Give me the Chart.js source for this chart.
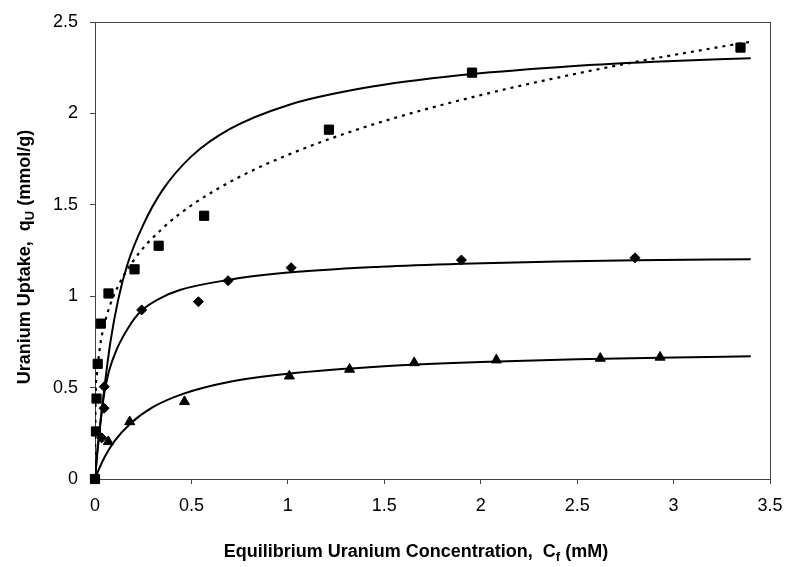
<!DOCTYPE html>
<html><head><meta charset="utf-8">
<script src="https://cdn.jsdelivr.net/npm/chart.js@4/dist/chart.umd.min.js"></script>
<style>html,body{margin:0;padding:0;background:#fff}</style>
</head><body>
<canvas id="c" width="787" height="567"></canvas>
<script>
// Axis ticks
const xTicks = [0, 0.5, 1, 1.5, 2, 2.5, 3, 3.5];
const yTicks = [0, 0.5, 1, 1.5, 2, 2.5];

// Measured data (squares)
const squareX = [0, 0.005, 0.008, 0.014, 0.03, 0.07, 0.205, 0.33, 0.566, 1.213, 1.955, 3.347];
const squareY = [0, 0.26, 0.44, 0.63, 0.85, 1.015, 1.147, 1.276, 1.44, 1.911, 2.223, 2.36];
// Measured data (diamonds)
const diamondX = [0, 0.035, 0.047, 0.048, 0.242, 0.536, 0.69, 1.017, 1.90, 2.80];
const diamondY = [0, 0.225, 0.387, 0.505, 0.925, 0.97, 1.085, 1.156, 1.198, 1.21];
// Measured data (triangles)
const triangleX = [0.069, 0.18, 0.464, 1.008, 1.32, 1.655, 2.081, 2.62, 2.93];
const triangleY = [0.204, 0.313, 0.423, 0.563, 0.60, 0.636, 0.651, 0.66, 0.666];

// Fitted curves
const topFitX = [0, 0.01, 0.025, 0.05, 0.08, 0.12, 0.17, 0.25, 0.35, 0.5, 0.7, 1.0, 1.4, 1.9, 2.4, 2.9, 3.4];
const topFitY = [0, 0.12, 0.28, 0.51, 0.75, 0.98, 1.18, 1.39, 1.58, 1.765, 1.915, 2.045, 2.14, 2.21, 2.253, 2.282, 2.302];
const dotFitX = [0, 0.003, 0.01, 0.03, 0.06, 0.1, 0.2, 0.35, 0.5, 0.75, 1.0, 1.3, 1.6, 2.0, 2.4, 2.8, 3.1, 3.4];
const dotFitY = [0, 0.43, 0.575, 0.752, 0.891, 1.01, 1.196, 1.371, 1.497, 1.653, 1.773, 1.891, 1.989, 2.10, 2.196, 2.281, 2.338, 2.392];
const midFitX = [0, 0.01, 0.025, 0.045, 0.07, 0.113, 0.18, 0.24, 0.34, 0.44, 0.69, 0.96, 1.48, 1.9, 2.4, 2.8, 3.4];
const midFitY = [0, 0.13, 0.28, 0.45, 0.58, 0.71, 0.84, 0.92, 0.99, 1.034, 1.089, 1.125, 1.161, 1.178, 1.19, 1.197, 1.202];
const lowFitX = [0, 0.02, 0.05, 0.1, 0.18, 0.3, 0.46, 0.7, 1.0, 1.5, 2.0, 2.5, 3.0, 3.4];
const lowFitY = [0, 0.053, 0.12, 0.206, 0.30, 0.393, 0.467, 0.532, 0.576, 0.617, 0.64, 0.655, 0.665, 0.671];

const pts = (xs, ys) => xs.map((x, i) => ({x: x, y: ys[i]}));

const FONT = "'Liberation Sans', Arial, sans-serif";

const lineDs = (label, xs, ys, dash) => ({
  label: label, data: pts(xs, ys), showLine: true, pointRadius: 0,
  borderColor: '#000', borderWidth: dash ? 2.2 : 2, borderDash: dash || [],
  tension: 0.4, cubicInterpolationMode: 'monotone', fill: false, order: 2
});
const markDs = (label, xs, ys, style, r) => ({
  label: label, data: pts(xs, ys), showLine: false, pointStyle: style,
  pointRadius: r, pointHoverRadius: r, backgroundColor: '#000', borderColor: '#000',
  borderWidth: 1, order: 1, clip: false
});

const framePlugin = {
  id: 'frame',
  beforeDatasetsDraw(chart) {
    const a = chart.chartArea, ctx = chart.ctx;
    ctx.save();
    ctx.strokeStyle = '#444';
    ctx.lineWidth = 1;
    ctx.strokeRect(Math.round(a.left) + 0.5, Math.round(a.top) + 0.5,
      Math.round(a.right - a.left), Math.round(a.bottom - a.top));
    ctx.restore();
  }
};

function drawSub(ctx, parts, x, y) {
  const main = 'bold 18px ' + FONT, sub = 'bold 13px ' + FONT;
  let w = 0;
  parts.forEach(p => { ctx.font = p[1] ? sub : main; w += ctx.measureText(p[0]).width; });
  let cx = x - w / 2;
  parts.forEach(p => {
    ctx.font = p[1] ? sub : main;
    ctx.fillText(p[0], cx, p[1] ? y + 4 : y);
    cx += ctx.measureText(p[0]).width;
  });
}

const titlePlugin = {
  id: 'titles',
  afterDraw(chart) {
    const ctx = chart.ctx;
    ctx.save();
    ctx.fillStyle = '#000';
    ctx.textBaseline = 'alphabetic';
    ctx.textAlign = 'left';
    drawSub(ctx, [['Equilibrium Uranium Concentration,  C', false], ['f', true], [' (mM)', false]], 416, 557);
    ctx.translate(30, 257);
    ctx.rotate(-Math.PI / 2);
    drawSub(ctx, [['Uranium Uptake,  q', false], ['U', true], [' (mmol/g)', false]], 0, 0);
    ctx.restore();
  }
};

new Chart(document.getElementById('c'), {
  type: 'scatter',
  data: {
    datasets: [
      lineDs('Top fit', topFitX, topFitY),
      lineDs('Dotted fit', dotFitX, dotFitY, [3, 5]),
      lineDs('Middle fit', midFitX, midFitY),
      lineDs('Low fit', lowFitX, lowFitY),
      markDs('Squares', squareX, squareY, 'rect', 6.5),
      markDs('Diamonds', diamondX, diamondY, 'rectRot', 5),
      markDs('Triangles', triangleX, triangleY, 'triangle', 5.8)
    ]
  },
  options: {
    responsive: false,
    animation: false,
    devicePixelRatio: 1,
    layout: { padding: { top: 22, right: 17, left: 0, bottom: 0 } },
    plugins: { legend: { display: false }, tooltip: { enabled: false }, title: { display: false } },
    scales: {
      x: {
        type: 'linear', min: 0, max: 3.5,
        afterBuildTicks: s => { s.ticks = xTicks.map(v => ({value: v})); },
        afterFit: s => { s.height = 88; s.paddingLeft = 0; s.paddingRight = 0; },
        grid: { drawOnChartArea: false, drawTicks: true, tickLength: 5, color: '#444', lineWidth: 1 },
        border: { display: true, color: '#444', width: 1 },
        ticks: { color: '#000', font: { family: FONT, size: 18 }, padding: 11, maxRotation: 0,
                 callback: v => String(v) }
      },
      y: {
        type: 'linear', min: 0, max: 2.5,
        afterBuildTicks: s => { s.ticks = yTicks.map(v => ({value: v})); },
        afterFit: s => { s.width = 95; s.paddingTop = 0; s.paddingBottom = 0; },
        grid: { drawOnChartArea: false, drawTicks: true, tickLength: 5, color: '#444', lineWidth: 1 },
        border: { display: true, color: '#444', width: 1 },
        ticks: { color: '#000', font: { family: FONT, size: 18 }, padding: 12,
                 callback: v => String(v) }
      }
    }
  },
  plugins: [framePlugin, titlePlugin]
});
</script>
</body></html>
